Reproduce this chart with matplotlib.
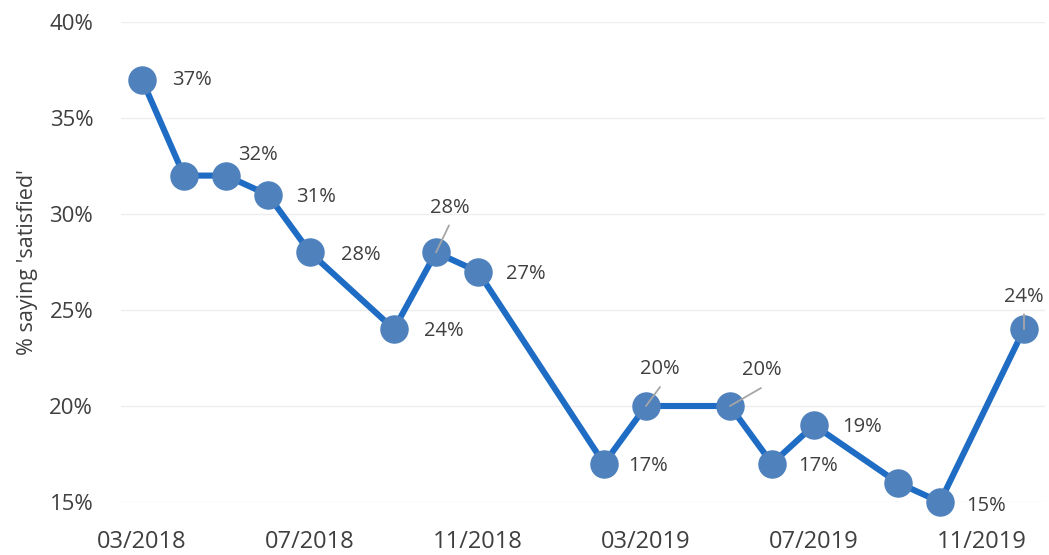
import matplotlib
matplotlib.use("Agg")
import matplotlib.pyplot as plt

plt.rcParams['font.family'] = ['Open Sans', 'DejaVu Sans']

# monthly survey readings, months counted from 03/2018
months = [0, 1, 2, 3, 4, 6, 7, 8, 11, 12, 14, 15, 16, 18, 19, 21]
satisfied = [37, 32, 32, 31, 28, 24, 28, 27, 17, 20, 20, 17, 19, 16, 15, 24]
tick_months = [0, 4, 8, 12, 16, 20]
tick_labels = ['03/2018', '07/2018', '11/2018', '03/2019', '07/2019', '11/2019']
y_ticks = [15, 20, 25, 30, 35, 40]

# label placement in pixels relative to each point; None = no label
label_offsets = [(50, 0), None, (32, 21), (48, -2), (51, -3), (50, -2), (14, 44),
                 (48, -2), (44, -2), (14, 37), (32, 36), (46, -2), (48, -2), None,
                 (46, -4), (0, 32)]
leaders = {6: (13, 27), 9: (14, 19), 10: (31, 18), 15: (0, 15)}

text_col = '#3f3f3f'

fig = plt.figure(figsize=(10.49, 5.55), dpi=100)
ax = fig.add_axes([121 / 1049, 53 / 555, 924 / 1049, 480 / 555])

ax.plot(months, satisfied, color='#1f6cc4', lw=4.4, zorder=2, clip_on=False,
        marker='o', markersize=19.5, markerfacecolor='#4f81bd',
        markeredgecolor='#4f81bd', solid_capstyle='round')

for i, (m, v) in enumerate(zip(months, satisfied)):
    off = label_offsets[i]
    if off is None:
        continue
    ax.annotate(f'{v}%', (m, v), xytext=off, textcoords='offset pixels',
                ha='center', va='center', fontsize=14.5, color=text_col, zorder=4)
    if i in leaders:
        ax.annotate('', (m, v), xytext=leaders[i], textcoords='offset pixels',
                    arrowprops=dict(arrowstyle='-', color='#a6a6a6', lw=1.3,
                                    shrinkA=0, shrinkB=0), zorder=3)

ax.set_xlim(-0.5, 21.5)
ax.set_ylim(15, 40)
ax.set_xticks(tick_months)
ax.set_xticklabels(tick_labels)
ax.set_yticks(y_ticks)
ax.set_yticklabels([f'{t}%' for t in y_ticks])
ax.grid(axis='y', color='#eeeeee', lw=1)
ax.set_axisbelow(True)
for s in ax.spines.values():
    s.set_visible(False)
ax.tick_params(length=0, colors=text_col)
ax.tick_params(axis='y', labelsize=16, pad=20)
ax.tick_params(axis='x', labelsize=17, pad=20)
ax.set_ylabel("% saying 'satisfied'", fontsize=15.5, color=text_col, labelpad=8)
for lab in ax.get_xticklabels() + ax.get_yticklabels():
    lab.set_clip_on(False)

fig.savefig('out.png', dpi=100)
